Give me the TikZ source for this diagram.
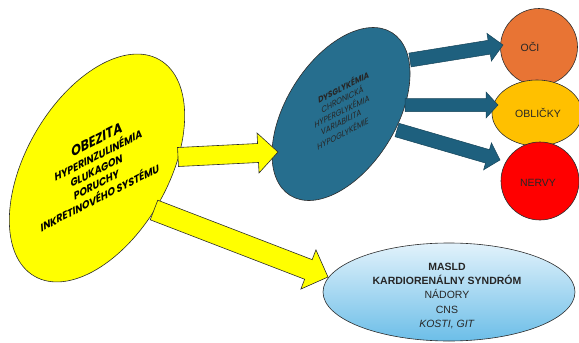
\documentclass[tikz,border=0pt]{standalone}
\usepackage{graphicx}
\usepackage{fontspec}
\setmainfont{Liberation Sans}
\newfontfamily\popslant{Poppins}[FakeSlant=0.42]
\usetikzlibrary{shapes.geometric,calc}

\definecolor{obyellow}{RGB}{255,255,0}
\definecolor{dysteal}{RGB}{38,110,142}
\definecolor{arrteal}{RGB}{30,96,126}
\definecolor{ociorange}{RGB}{232,116,52}
\definecolor{oblgold}{RGB}{255,192,0}
\definecolor{nervred}{RGB}{255,0,0}
\definecolor{edgegray}{RGB}{45,45,45}
\definecolor{masltop}{RGB}{226,242,251}
\definecolor{maslbot}{RGB}{108,190,232}

\newcommand\tilted[1]{\rotatebox{27}{#1}}

\tikzset{
  blob/.style={ellipse, draw=edgegray, line width=0.6pt, inner sep=0pt},
  yarrow/.style={fill=obyellow, draw=edgegray, line width=0.6pt, line join=miter},
  barrow/.style={fill=arrteal, draw=arrteal!70!black, line width=0.5pt, line join=miter},
  organtext/.style={font=\fontsize{10.5}{12}\selectfont, text=black!85},
  tiltline/.style={anchor=center, inner sep=0pt},
  obline/.style={tiltline, font=\popslant\bfseries\fontsize{10.2}{12}\selectfont},
  dysline/.style={tiltline, text=black!85, font=\popslant\fontsize{8}{10}\selectfont},
}

% block arrow: #1 style, #2 tail, #3 tip, #4 shaft half width,
% #5 head half width, #6 head length
\newcommand\blockarrow[6]{%
  \coordinate (ba-neck) at ($(#3)!#6!(#2)$);
  \draw[#1] ($(#2)!#4!90:(#3)$) -- ($(ba-neck)!#4!90:(#3)$)
    -- ($(ba-neck)!#5!90:(#3)$) -- (#3)
    -- ($(ba-neck)!#5!-90:(#3)$) -- ($(ba-neck)!#4!-90:(#3)$)
    -- ($(#2)!#4!-90:(#3)$) -- cycle;}

\begin{document}
\begin{tikzpicture}[x=1pt,y=1pt]
\useasboundingbox (0,0) rectangle (579,-343);
\clip (0,0) rectangle (579,-343);

% main blobs
\node[blob, fill=obyellow, minimum width=250pt, minimum height=142pt, rotate=60] (obez) at (97,-168) {};
\node[blob, fill=dysteal, minimum width=192pt, minimum height=110pt, rotate=58] (dys) at (341,-114) {};

% organ circles
\node[blob, fill=ociorange, minimum width=77pt, minimum height=77pt] (oci) at (539,-47) {};
\node[blob, fill=oblgold, minimum width=90pt, minimum height=66pt] (obl) at (537,-113) {};
\node[blob, fill=nervred, minimum width=78pt, minimum height=78pt] (nerv) at (540,-181) {};

% consequences
\node[blob, top color=masltop, bottom color=maslbot, minimum width=252pt, minimum height=98pt] (masld) at (449,-292) {};

% arrow end points
\coordinate (y1t) at ($(obez)+(81,11)$);
\coordinate (y1h) at ($(dys)+(-63,-38)$);
\coordinate (y2t) at ($(obez)+(57,-42)$);
\coordinate (y2h) at ($(masld)+(-121,15)$);
\coordinate (b1t) at ($(dys)+(69,54)$);
\coordinate (b1h) at ($(oci)+(-36,2)$);
\coordinate (b2t) at ($(dys)+(64,9)$);
\coordinate (b2h) at ($(obl)+(-39,8)$);
\coordinate (b3t) at ($(dys)+(56,-16)$);
\coordinate (b3h) at ($(nerv)+(-40,21)$);

\blockarrow{yarrow}{y1t}{y1h}{9.5pt}{20pt}{20pt}
\blockarrow{yarrow}{y2t}{y2h}{10.5pt}{21pt}{21pt}
\blockarrow{barrow}{b1t}{b1h}{7pt}{14pt}{14pt}
\blockarrow{barrow}{b2t}{b2h}{6.5pt}{13pt}{12pt}
\blockarrow{barrow}{b3t}{b3h}{7pt}{14pt}{13pt}

% tilted lines, stacked vertically (centres of each line)
\node[obline, font=\popslant\bfseries\fontsize{13.5}{14}\selectfont] (obz1) at (95,-140.5) {\tilted{OBEZITA}};
\node[obline] (obz2) at (96.5,-155) {\tilted{HYPERINZULINÉMIA}};
\node[obline] (obz3) at (95.2,-171.5) {\tilted{GLUKAGON}};
\node[obline] (obz4) at (95.2,-185.5) {\tilted{PORUCHY}};
\node[obline] (obz5) at (98,-197.5) {\tilted{INKRETINOVÉHO SYSTÉMU}};

\node[dysline, font=\popslant\bfseries\fontsize{8}{10}\selectfont] (dys1) at (342.1,-87.3) {\tilted{DYSGLYKÉMIA}};
\node[dysline] (dys2) at (341.1,-99.3) {\tilted{CHRONICKÁ}};
\node[dysline] (dys3) at (340.6,-111.3) {\tilted{HYPERGLYKÉMIA}};
\node[dysline] (dys4) at (340.1,-122.8) {\tilted{VARIABILITA}};
\node[dysline] (dys5) at (341.6,-133.8) {\tilted{HYPOGLYKÉMIE}};

% organ labels
\node[organtext] (ocitxt) at (530,-47) {OČI};
\node[organtext] (obltxt) at (538,-113) {OBLIČKY};
\node[organtext] (nervtxt) at (538,-183) {NERVY};

\node[align=center, text=black!85, font=\fontsize{10.5}{14.4}\selectfont] (masldtxt) at (447,-296)
  {\textbf{MASLD}\\\textbf{KARDIORENÁLNY SYNDRÓM}\\NÁDORY\\CNS\\\textit{KOSTI, GIT}};
\end{tikzpicture}
\end{document}
